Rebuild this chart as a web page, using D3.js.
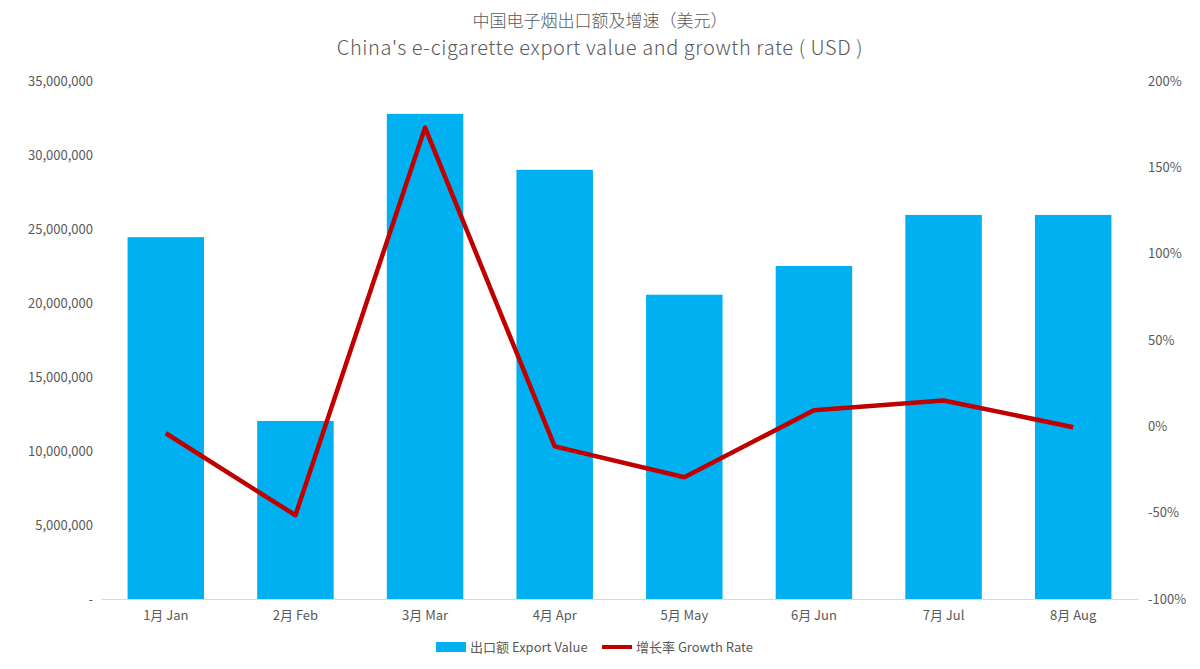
<!DOCTYPE html>
<html><head><meta charset="utf-8">
<script src="https://cdn.jsdelivr.net/npm/d3@7"></script>
<style>
body{margin:0;background:#fff;font-family:"Noto Sans CJK SC","Noto Sans",sans-serif;}
</style></head><body><div id="chart"></div>
<script>
const months = ["1月 Jan","2月 Feb","3月 Mar","4月 Apr","5月 May","6月 Jun","7月 Jul","8月 Aug"];
const exportValue = [24450000,12030000,32780000,29000000,20560000,22500000,25950000,25950000];
const growthRate = [-0.04,-0.515,1.73,-0.116,-0.295,0.093,0.15,-0.005];
const leftTicks = [0,5e6,10e6,15e6,20e6,25e6,30e6,35e6];
const rightTicks = [-1,-0.5,0,0.5,1,1.5,2];

const W=1200,H=669, m={top:81,right:62,bottom:70,left:101};
const svg=d3.select("#chart").append("svg").attr("width",W).attr("height",H);
const x=d3.scaleBand().domain(months).range([m.left,W-m.right]).paddingInner(0.41).paddingOuter(0.205);
const yL=d3.scaleLinear().domain([0,35e6]).range([H-m.bottom,m.top]);
const yR=d3.scaleLinear().domain([-1,2]).range([H-m.bottom,m.top]);
const grey="#595959";

svg.append("text").attr("x",W/2).attr("y",27).attr("text-anchor","middle").attr("font-size",17).attr("font-weight",300).attr("fill",grey).text("中国电子烟出口额及增速（美元）");
svg.append("text").attr("x",W/2).attr("y",55).attr("text-anchor","middle").attr("font-size",20).attr("font-weight",300).attr("letter-spacing",0.6).attr("fill",grey).text("China's e-cigarette export value and growth rate ( USD )");

svg.selectAll("rect.bar").data(exportValue).join("rect").attr("class","bar")
 .attr("x",(d,i)=>x(months[i])).attr("width",x.bandwidth())
 .attr("y",d=>yL(d)).attr("height",d=>yL(0)-yL(d)).attr("fill","#00b0f0");

const fmt=d3.format(",");
const gl=svg.append("g").attr("transform",`translate(${m.left},0)`)
 .call(d3.axisLeft(yL).tickValues(leftTicks).tickSize(0).tickPadding(8).tickFormat(d=>d===0?"-":fmt(d)));
const gr=svg.append("g").attr("transform",`translate(${W-m.right},0)`)
 .call(d3.axisRight(yR).tickValues(rightTicks).tickSize(0).tickPadding(10).tickFormat(d=>Math.round(d*100)+"%"));
const gx=svg.append("g").attr("transform",`translate(0,${H-m.bottom})`)
 .call(d3.axisBottom(x).tickSize(0).tickPadding(12));
[gl,gr].forEach(g=>g.select(".domain").remove());
gx.select(".domain").attr("stroke","#d9d9d9");
svg.selectAll(".tick text").attr("fill",grey).attr("font-size",13).attr("font-family","'Noto Sans CJK SC','Noto Sans',sans-serif");

const line=d3.line().x((d,i)=>x(months[i])+x.bandwidth()/2).y(d=>yR(d));
svg.append("path").datum(growthRate).attr("d",line).attr("fill","none").attr("stroke","#c00000").attr("stroke-width",4.5).attr("stroke-linejoin","round");

const lg=svg.append("g").attr("transform","translate(436,647)");
lg.append("rect").attr("x",0).attr("y",-5).attr("width",30).attr("height",10).attr("fill","#00b0f0");
lg.append("text").attr("x",34).attr("y",5).attr("font-size",13).attr("fill",grey).text("出口额 Export Value");
lg.append("line").attr("x1",166).attr("x2",196).attr("y1",0).attr("y2",0).attr("stroke","#c00000").attr("stroke-width",4);
lg.append("text").attr("x",200).attr("y",5).attr("font-size",13).attr("fill",grey).text("增长率 Growth Rate");
</script></body></html>
